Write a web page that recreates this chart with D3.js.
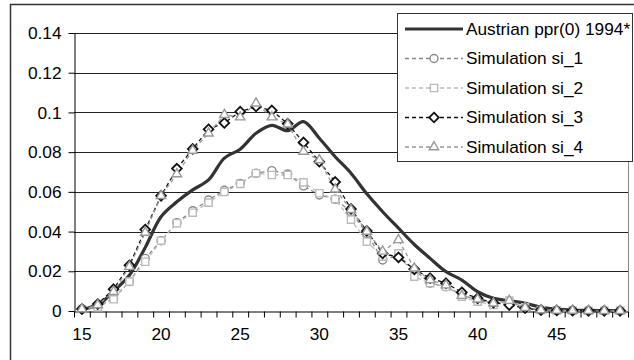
<!DOCTYPE html>
<html><head><meta charset="utf-8">
<script src="https://cdn.jsdelivr.net/npm/d3@7"></script>
<style>
html,body{margin:0;padding:0;background:#fff;}
svg text{font-family:"Liberation Sans",Arial,Helvetica,sans-serif;}
</style></head>
<body><svg id="c" width="634" height="360"></svg>
<script>
const ages = d3.range(15, 50);
const austrian = [0.001,0.003,0.010,0.018,0.032,0.0475,0.055,0.061,0.066,0.077,0.0815,0.0895,0.0935,0.0908,0.0954,0.087,0.0777,0.0694,0.059,0.050,0.0417,0.0335,0.0265,0.0198,0.0156,0.0097,0.0064,0.0052,0.0039,0.0019,0.001,0.0005,0.0003,0.0002,0.0001];
const si1 = [0.001,0.0022,0.0064,0.0148,0.0265,0.0354,0.0445,0.0505,0.0559,0.0608,0.0643,0.0694,0.0707,0.069,0.063,0.0584,0.0563,0.050,0.039,0.0257,0.028,0.0207,0.014,0.0122,0.008,0.0055,0.0039,0.0047,0.0014,0.0005,0.0003,0.0002,0.0001,0.0001,0.0001];
const si2 = [0.001,0.0019,0.0059,0.0148,0.0248,0.0354,0.0442,0.0495,0.0546,0.060,0.064,0.0694,0.0685,0.0685,0.0648,0.0593,0.0563,0.046,0.0349,0.0274,0.029,0.0173,0.014,0.0122,0.0072,0.0047,0.003,0.0052,0.0019,0.0005,0.0003,0.0002,0.0001,0.0001,0.0001];
const si3 = [0.001,0.0035,0.011,0.023,0.041,0.058,0.0717,0.0816,0.0915,0.0947,0.1004,0.103,0.101,0.0943,0.0849,0.0752,0.065,0.0514,0.0403,0.029,0.027,0.021,0.0165,0.014,0.0094,0.0064,0.0042,0.003,0.0014,0.0005,0.0003,0.0002,0.0001,0.0001,0.0001];
const si4 = [0.001,0.003,0.0097,0.0223,0.0395,0.058,0.069,0.0808,0.0895,0.0988,0.0976,0.1046,0.0976,0.094,0.0803,0.076,0.0613,0.051,0.040,0.030,0.0358,0.0215,0.0156,0.013,0.0077,0.0059,0.0039,0.0052,0.0017,0.0005,0.0003,0.0002,0.0001,0.0001,0.0001];
const seriesNames = ["Austrian ppr(0) 1994*","Simulation si_1","Simulation si_2","Simulation si_3","Simulation si_4"];
const yTicks = [0,0.02,0.04,0.06,0.08,0.1,0.12,0.14];
const yTickLabels = ["0","0.02","0.04","0.06","0.08","0.1","0.12","0.14"];
const xTickLabels = [15,20,25,30,35,40,45];

const svg = d3.select("#c");
const L = 74, R = 628, T = 33, B = 311;
const x = d3.scaleBand().domain(ages).range([L, R]).paddingInner(0).paddingOuter(0);
const xb = d3.scaleLinear().domain([15, 50]).range([L, R]);
const y = d3.scaleLinear().domain([0, 0.14]).range([B, T]);
const cx = a => x(a) + x.bandwidth() / 2;
const FS = 16, SX = 1.08;
function stretch(sel) {
  sel.each(function() {
    const t = d3.select(this);
    const xv = +t.attr("x") || 0;
    t.attr("x", xv / SX).attr("transform", `scale(${SX},1)`);
  });
}

// outer frame
svg.append("path").attr("d", `M10.5,360 V4.5 H634`).attr("fill","none").attr("stroke","#333").attr("stroke-width",1.5);

// gridlines
svg.append("g").selectAll("line").data(yTicks.slice(1)).join("line")
  .attr("x1", L).attr("x2", R).attr("y1", d => Math.round(y(d)) + 0.5).attr("y2", d => Math.round(y(d)) + 0.5)
  .attr("stroke", "#222").attr("stroke-width", 1);
svg.append("line").attr("x1", R + 0.5).attr("x2", R + 0.5).attr("y1", T).attr("y2", B).attr("stroke", "#888").attr("stroke-width", 1);

// y axis
const yAxis = svg.append("g").attr("transform", `translate(${L + 0.5},0)`)
  .call(d3.axisLeft(y).tickValues(yTicks).tickSize(6).tickSizeOuter(0).tickFormat((d, i) => yTickLabels[i]));
yAxis.select(".domain").attr("stroke", "#000");
yAxis.selectAll(".tick line").attr("stroke", "#000");
yAxis.selectAll("text").attr("font-size", FS).attr("fill", "#000").attr("x", -13).attr("dy", "0.35em").call(stretch);

// x axis tick marks between categories
const xAxis = svg.append("g").attr("transform", `translate(0,${B + 0.5})`)
  .call(d3.axisBottom(xb).tickValues(d3.range(15, 51)).tickSize(6).tickSizeOuter(0).tickFormat(""));
xAxis.select(".domain").attr("stroke", "#000");
xAxis.selectAll(".tick line").attr("stroke", "#000");
const xLab = svg.append("g").attr("transform", `translate(0,${B})`)
  .call(d3.axisBottom(x).tickValues(xTickLabels).tickSize(0).tickFormat(d => String(d)));
xLab.select(".domain").remove();
xLab.selectAll("text").attr("font-size", FS).attr("fill", "#000").attr("y", 18).attr("dy", "0.71em").call(stretch);

// series
const line = d3.line().x((d, i) => cx(ages[i])).y(d => y(d));
const smooth = d3.line().x((d, i) => cx(ages[i])).y(d => y(d)).curve(d3.curveCatmullRom.alpha(0.5));

svg.append("path").datum(austrian).attr("d", smooth).attr("fill", "none").attr("stroke", "#333").attr("stroke-width", 3.2).attr("stroke-linejoin","round");

const sims = [
  {vals: si1, color: "#888", shape: "circle", dash: "4,3"},
  {vals: si2, color: "#bbb", shape: "square", dash: "4,3"},
  {vals: si3, color: "#111", shape: "diamond", dash: "4,3"},
  {vals: si4, color: "#999", shape: "triangle", dash: "4,3"}
];
const symType = {circle: d3.symbolCircle, square: d3.symbolSquare, diamond: d3.symbolDiamond2, triangle: d3.symbolTriangle};
const symSize = {circle: 50, square: 52, diamond: 60, triangle: 38};
function drawMarker(g, s, px, py) {
  g.append("path").attr("transform", `translate(${px},${py})`)
    .attr("d", d3.symbol().type(symType[s.shape]).size(symSize[s.shape])())
    .attr("fill", "#fff").attr("stroke", s.color).attr("stroke-width", s.shape === "diamond" ? 1.8 : 1.4);
}
sims.forEach(s => {
  svg.append("path").datum(s.vals).attr("d", line).attr("fill", "none").attr("stroke", s.color).attr("stroke-width", 1.3).attr("stroke-dasharray", s.dash);
});
sims.forEach(s => {
  const g = svg.append("g");
  s.vals.forEach((v, i) => drawMarker(g, s, cx(ages[i]), y(v)));
});

// legend
const lg = svg.append("g");
lg.append("rect").attr("x", 397.5).attr("y", 13.5).attr("width", 235).attr("height", 148).attr("fill", "#fff").attr("stroke", "#333").attr("stroke-width", 1);
const rowY = [29, 58.5, 88, 117.5, 147];
seriesNames.forEach((n, i) => {
  const yy = rowY[i];
  if (i === 0) {
    lg.append("line").attr("x1", 405).attr("x2", 463).attr("y1", yy).attr("y2", yy).attr("stroke", "#333").attr("stroke-width", 3.2);
  } else {
    const s = sims[i - 1];
    lg.append("line").attr("x1", 405).attr("x2", 463).attr("y1", yy).attr("y2", yy).attr("stroke", s.color).attr("stroke-width", 1.3).attr("stroke-dasharray", s.dash);
    drawMarker(lg, s, 434, yy);
  }
  lg.append("text").attr("x", 466).attr("y", yy).attr("dy", "0.35em").attr("font-size", FS).attr("fill", "#000").text(n).call(stretch);
});
</script></body></html>
